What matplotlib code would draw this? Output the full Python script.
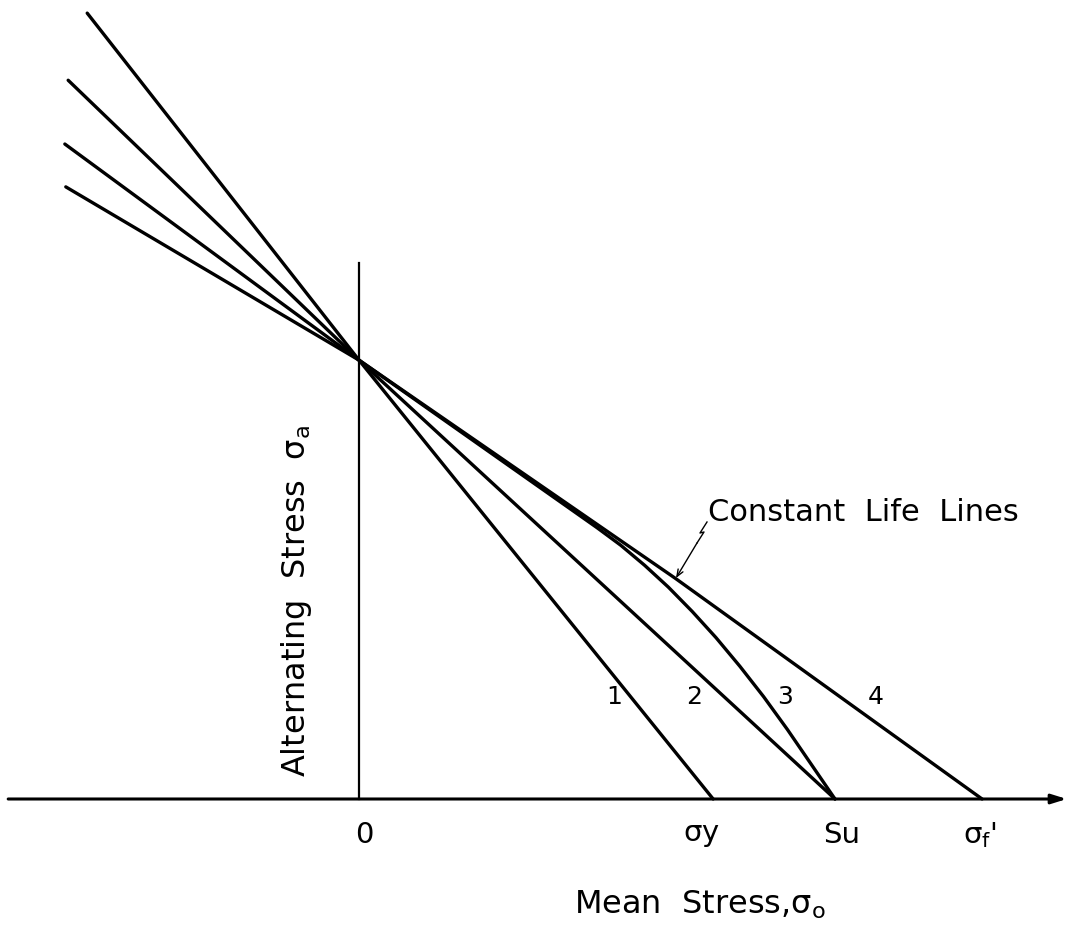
'''
Diagrama de vida constante: esfuerzo alternante vs esfuerzo medio.
Lineas 1 a 4 (fluencia, Goodman, Gerber, Morrow) pasan por el
mismo punto sobre el eje vertical.
'''

import numpy as np
from matplotlib import pyplot as plt

# esfuerzos normalizados con Su = 1
sigma_y = 0.744
s_u = 1.0
sigma_f = 1.309
sigma_e = 0.922

# linea 1: hasta sigma_y
medio_1 = [-0.571, 0.0, sigma_y]
alterno_1 = [1.651, sigma_e, 0.0]

# linea 2: hasta Su (recta)
medio_2 = [-0.611, 0.0, s_u]
alterno_2 = [1.510, sigma_e, 0.0]

# linea 3: hasta Su (curva, pegada a la 4 al principio)
medio_3 = [-0.618, 0.0, 0.25, 0.5, 0.55, 0.6, 0.65, 0.7, 0.75,
           0.8, 0.85, 0.9, 0.95, s_u]
alterno_3 = [1.376, sigma_e, 0.746, 0.570, 0.533, 0.491, 0.445, 0.394, 0.339,
             0.279, 0.215, 0.146, 0.073, 0.0]

# linea 4: hasta sigma_f'
medio_4 = [-0.616, 0.0, 0.664, sigma_f]
alterno_4 = [1.286, sigma_e, 0.464, 0.0]

# etiquetas del eje horizontal
valores_x = [0.0, sigma_y, s_u, sigma_f]
etiquetas_x = ['0', r'$\mathrm{\sigma}$y', 'Su', r"$\mathrm{\sigma_f}$'"]

numeros = ['1', '2', '3', '4']

lineas = [(medio_1, alterno_1), (medio_2, alterno_2),
          (medio_3, alterno_3), (medio_4, alterno_4)]

plt.rcParams['font.family'] = ['DejaVu Sans']
plt.rcParams['mathtext.fontset'] = 'dejavusans'

escala = 476.0  # pixeles por unidad
fig = plt.figure(figsize=(10.69, 9.30), dpi=100)
ax = fig.add_axes([0, 0, 1, 1])
ax.set_xlim(-359 / escala, (1069 - 359) / escala)
ax.set_ylim((799 - 930) / escala, 799 / escala)
ax.axis('off')

for medio, alterno in lineas:
  ax.plot(medio, alterno, c='k', lw=2.4, solid_capstyle='round',
          solid_joinstyle='round')

# ejes
ax.plot([0, 0], [0, 1.126], c='k', lw=1.6)
ax.annotate('', xy=(1.487, 0), xytext=(-0.737, 0),
            arrowprops=dict(arrowstyle='-|>,head_length=0.9,head_width=0.28',
                            lw=2.2, color='k', shrinkA=0, shrinkB=0))

# etiquetas de los cortes con el eje
desfases = [0.011, -0.024, 0.013, -0.004]
for valor, etiqueta, d in zip(valores_x, etiquetas_x, desfases):
  ax.text(valor + d, -0.075, etiqueta, ha='center', va='center', fontsize=21)

# numeros de las lineas
pos_numeros = [(614, 697), (694, 697), (785, 697), (876, 697)]
for n, (px, py) in zip(numeros, pos_numeros):
  ax.text((px - 359) / escala, (799 - py) / escala, n,
          ha='center', va='center', fontsize=18)

ax.text((700 - 359) / escala, (799 - 905) / escala,
        r'Mean  Stress,$\mathrm{\sigma_o}$',
        ha='center', va='center', fontsize=23)
ax.text((297 - 359) / escala, (799 - 601) / escala,
        r'Alternating  Stress  $\mathrm{\sigma_a}$',
        ha='center', va='center', fontsize=23, rotation=90)

ax.text((708 - 359) / escala, (799 - 512) / escala, 'Constant  Life  Lines',
        ha='left', va='center', fontsize=22)

# flecha con zigzag hacia la linea 4
zig_x = np.array([707, 700, 704, 697]) - 359
zig_y = 799 - np.array([522, 533, 532, 543])
ax.plot(zig_x / escala, zig_y / escala, c='k', lw=1.0)
ax.annotate('', xy=((676 - 359) / escala, (799 - 578) / escala),
            xytext=((697 - 359) / escala, (799 - 543) / escala),
            arrowprops=dict(arrowstyle='->,head_length=0.5,head_width=0.2',
                            lw=1.0, color='k', shrinkA=0, shrinkB=0))

fig.savefig('out.png', dpi=100)
